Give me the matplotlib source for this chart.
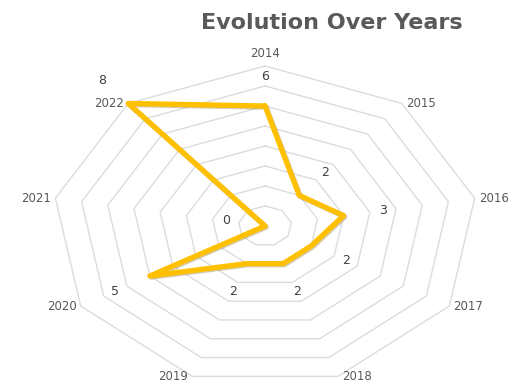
import numpy as np
import matplotlib
matplotlib.use("Agg")
import matplotlib.pyplot as plt
import matplotlib.patheffects as pe

categories = ["2014", "2015", "2016", "2017", "2018", "2019", "2020", "2021", "2022"]
values = [6, 2, 3, 2, 2, 2, 5, 0, 8]
ring_levels = [1, 2, 3, 4, 5, 6, 7, 8]
title = "Evolution Over Years"

W, H = 517, 385
fig = plt.figure(figsize=(W / 100, H / 100), dpi=100)
ax = fig.add_axes([0, 0, 1, 1])
ax.set_xlim(-9.96, 9.47)
ax.set_ylim(-7.95, 11.3)
ax.axis("off")

n = len(categories)
theta = np.arange(n) * 2 * np.pi / n
sx, sy = np.sin(theta), np.cos(theta)

# rings
for r in ring_levels:
    xs = np.append(r * sx, r * sx[0])
    ys = np.append(r * sy, r * sy[0])
    ax.plot(xs, ys, color="#dcdcdc", lw=1.0, zorder=1)

# series
v = np.array(values, dtype=float)
xs = np.append(v * sx, v[0] * sx[0])
ys = np.append(v * sy, v[0] * sy[0])
ax.plot(xs, ys, color="#FFC000", lw=3.8, solid_joinstyle="round", solid_capstyle="round",
        zorder=3,
        path_effects=[pe.SimpleLineShadow(offset=(0.8, -0.8), shadow_color="#7f6a20", alpha=0.35),
                      pe.Normal()])

# data labels
for i, val in enumerate(values):
    rl = val + 1.5
    ax.text(rl * sx[i], rl * sy[i], str(val), ha="center", va="center",
            fontsize=9, color="#404040", zorder=4)

# category labels
rmax = ring_levels[-1]
for i, c in enumerate(categories):
    if abs(sx[i]) < 0.1:
        ha, va, off = "center", "bottom", (0, 4)
    elif sx[i] > 0:
        ha, va, off = "left", "center", (3, 0)
    else:
        ha, va, off = "right", "center", (-3, 0)
    ax.annotate(c, (rmax * sx[i], rmax * sy[i]), xytext=off, textcoords="offset points",
                ha=ha, va=va, fontsize=8.5, color="#595959", annotation_clip=False)

fig.text(332 / W, 1 - 23 / H, title, ha="center", va="center", fontsize=16,
         fontweight="bold", color="#595959")

fig.savefig("out.png", dpi=100, facecolor="white")
